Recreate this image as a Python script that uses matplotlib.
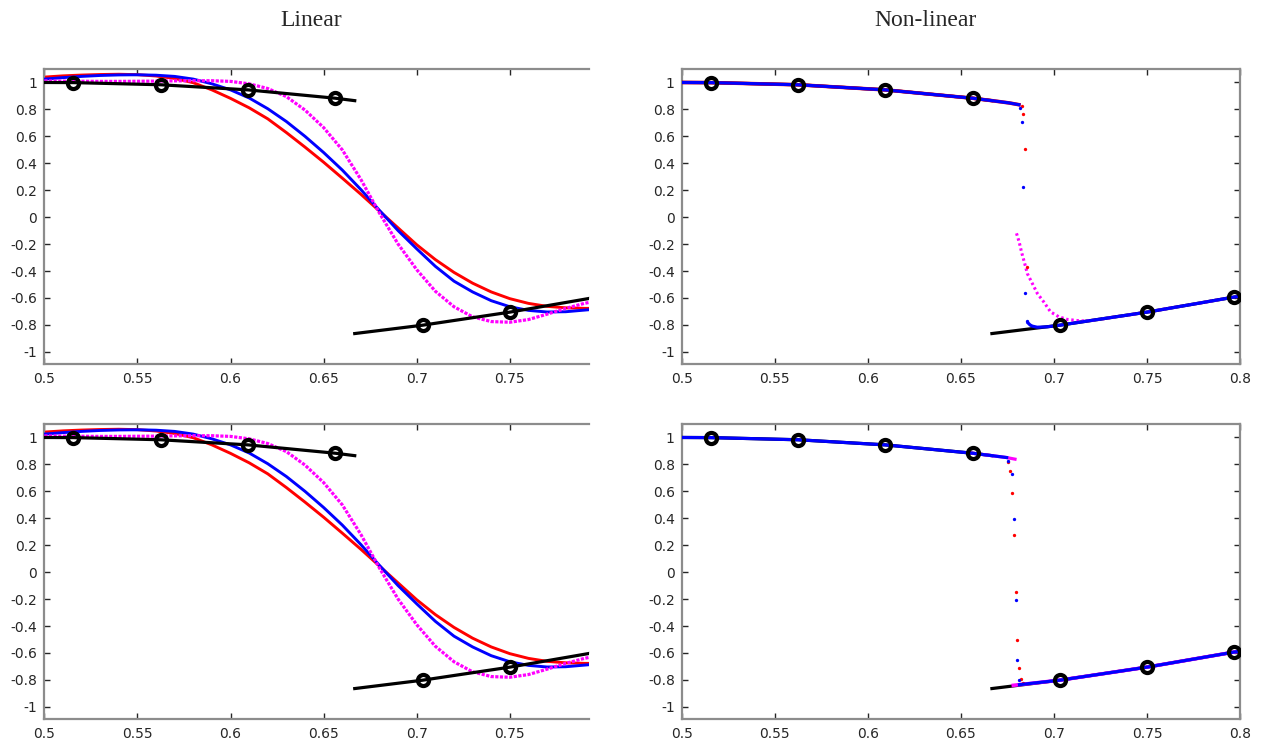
import matplotlib
matplotlib.use('Agg')
import matplotlib.pyplot as plt

plt.rcParams['axes.unicode_minus'] = False
plt.rcParams['font.family'] = ['DejaVu Sans']

# ------------------------------------------------------------------
# Datos
# ------------------------------------------------------------------

# Solucion de referencia (negro): dos ramas y los nodos marcados
ref_up_x = [0.5, 0.5156, 0.5625, 0.6094, 0.6563, 0.6667]
ref_up_y = [1.0, 0.999, 0.983, 0.945, 0.883, 0.865]
ref_lo_x = [0.6667, 0.7031, 0.75, 0.7969, 0.8]
ref_lo_y = [-0.864, -0.802, -0.705, -0.593, -0.586]
nodes_x = [0.5156, 0.5625, 0.6094, 0.6563, 0.7031, 0.75, 0.7969]
nodes_y = [0.999, 0.983, 0.945, 0.883, -0.802, -0.705, -0.593]

# Caso lineal (paneles de la izquierda, iguales arriba y abajo)
lin_x = [0.50, 0.51, 0.52, 0.53, 0.54, 0.55, 0.56, 0.57, 0.58, 0.59, 0.60,
         0.61, 0.62, 0.63, 0.64, 0.65, 0.66, 0.67, 0.68, 0.69, 0.70,
         0.71, 0.72, 0.73, 0.74, 0.75, 0.76, 0.77, 0.78, 0.79, 0.7925]
lin_red = [1.040, 1.049, 1.055, 1.059, 1.061, 1.058, 1.048, 1.030, 0.998, 0.945, 0.882,
           0.812, 0.730, 0.628, 0.520, 0.408, 0.290, 0.170, 0.045, -0.080, -0.205,
           -0.315, -0.410, -0.490, -0.555, -0.605, -0.640, -0.662, -0.673, -0.677, -0.677]
lin_blue = [1.025, 1.036, 1.045, 1.052, 1.056, 1.057, 1.054, 1.045, 1.025, 0.990, 0.945,
            0.885, 0.805, 0.710, 0.600, 0.480, 0.350, 0.205, 0.050, -0.100, -0.235,
            -0.365, -0.475, -0.555, -0.620, -0.665, -0.692, -0.704, -0.702, -0.690, -0.687]
lin_mag = [1.012, 1.010, 1.009, 1.008, 1.008, 1.009, 1.010, 1.012, 1.013, 1.013, 1.008,
           0.990, 0.955, 0.895, 0.795, 0.665, 0.500, 0.280, 0.030, -0.200, -0.390,
           -0.550, -0.665, -0.740, -0.775, -0.780, -0.760, -0.720, -0.677, -0.640, -0.633]

# Caso no lineal, panel superior
nl1_blue_up_x = [0.5, 0.5156, 0.5625, 0.6094, 0.6563, 0.6667, 0.676, 0.6812]
nl1_blue_up_y = [1.0, 0.999, 0.983, 0.945, 0.883, 0.865, 0.848, 0.835]
nl1_red_dots_x = [0.6826, 0.6836, 0.6847, 0.6856]
nl1_red_dots_y = [0.822, 0.765, 0.504, -0.368]
nl1_blue_dots_x = [0.6816, 0.6826, 0.6836, 0.6845, 0.6854]
nl1_blue_dots_y = [0.814, 0.710, 0.227, -0.566, -0.772]
nl1_blue_lo_x = [0.6861, 0.6872, 0.6884, 0.691, 0.6964, 0.7031, 0.75, 0.7969, 0.8]
nl1_blue_lo_y = [-0.785, -0.800, -0.809, -0.817, -0.814, -0.802, -0.705, -0.593, -0.586]
nl1_mag_lo_x = [0.6799, 0.6813, 0.6827, 0.6843, 0.6857, 0.6884, 0.6911, 0.6946, 0.6982,
                0.7027, 0.7072, 0.7143, 0.72, 0.73, 0.75, 0.7969, 0.8]
nl1_mag_lo_y = [-0.12, -0.182, -0.264, -0.343, -0.418, -0.492, -0.566, -0.63, -0.703,
                -0.74, -0.759, -0.770, -0.768, -0.747, -0.705, -0.593, -0.586]

# Caso no lineal, panel inferior
nl2_blue_up_x = [0.5, 0.5156, 0.5625, 0.6094, 0.6563, 0.6667, 0.6746]
nl2_blue_up_y = [1.0, 0.999, 0.983, 0.945, 0.883, 0.865, 0.851]
nl2_mag_up_x = [0.6563, 0.6667, 0.6746, 0.6791]
nl2_mag_up_y = [0.883, 0.865, 0.851, 0.839]
nl2_red_dots_x = [0.6755, 0.6762, 0.6773, 0.6784, 0.6795, 0.6804, 0.6813, 0.6823, 0.6832]
nl2_red_dots_y = [0.819, 0.752, 0.589, 0.275, -0.146, -0.505, -0.708, -0.795, -0.826]
nl2_blue_dots_x = [0.6755, 0.6773, 0.6784, 0.6795, 0.6804, 0.6815]
nl2_blue_dots_y = [0.824, 0.728, 0.396, -0.210, -0.649, -0.797]
nl2_lo_x = [0.6782, 0.6815, 0.7031, 0.75, 0.7969, 0.8]
nl2_lo_y = [-0.840, -0.835, -0.802, -0.705, -0.593, -0.586]

yticks = [-1, -0.8, -0.6, -0.4, -0.2, 0, 0.2, 0.4, 0.6, 0.8, 1]
ytick_labels = ['-1', '-0.8', '-0.6', '-0.4', '-0.2', '0', '0.2', '0.4', '0.6', '0.8', '1']
xticks_left = [0.5, 0.55, 0.6, 0.65, 0.7, 0.75]
xticks_right = [0.5, 0.55, 0.6, 0.65, 0.7, 0.75, 0.8]

# ------------------------------------------------------------------
# Figura
# ------------------------------------------------------------------
fig = plt.figure(figsize=(12.61, 7.48), dpi=100)

W, H = 1261.0, 748.0
ax_tl = fig.add_axes([44.3 / W, 1 - 364 / H, (589 - 44.3) / W, 295 / H])
ax_tr = fig.add_axes([681.7 / W, 1 - 364 / H, (1240 - 681.7) / W, 295 / H])
ax_bl = fig.add_axes([44.3 / W, 1 - 719 / H, (589 - 44.3) / W, 295 / H])
ax_br = fig.add_axes([681.7 / W, 1 - 719 / H, (1240 - 681.7) / W, 295 / H])


def estilo(ax, xmax, xticks, con_derecha):
    ax.set_xlim(0.5, xmax)
    ax.set_ylim(-1.09, 1.1)
    ax.set_xticks(xticks)
    ax.set_xticklabels(['%g' % t for t in xticks])
    ax.set_yticks(yticks)
    ax.set_yticklabels(ytick_labels)
    for lado in ['left', 'bottom', 'top', 'right']:
        ax.spines[lado].set_color('#8c8c8c')
        ax.spines[lado].set_linewidth(1.6)
    ax.spines['right'].set_visible(con_derecha)
    ax.tick_params(direction='in', length=4, width=1, color='#262626',
                   top=True, right=con_derecha, labelsize=10, labelcolor='#262626')
    ax.tick_params(axis='x', pad=6)
    ax.tick_params(axis='y', pad=5)


def referencia(ax):
    ax.plot(ref_up_x, ref_up_y, color='black', lw=2.3, zorder=4)
    ax.plot(ref_lo_x, ref_lo_y, color='black', lw=2.3, zorder=4)


def nodos(ax):
    ax.plot(nodes_x, nodes_y, 'o', ms=8, mfc='none', mec='black', mew=3.0, zorder=6)


# Paneles lineales
for ax in [ax_tl, ax_bl]:
    ax.plot(lin_x, lin_red, color='#ff0000', lw=2.1, zorder=2)
    ax.plot(lin_x, lin_blue, color='#0000ff', lw=2.1, zorder=3)
    ax.plot(lin_x, lin_mag, color='#ff00ff', lw=2.3, ls=(0, (1.0, 0.45)), zorder=3)
    referencia(ax)
    nodos(ax)
    estilo(ax, 0.7925, xticks_left, False)

# Panel no lineal superior
referencia(ax_tr)
ax_tr.plot(nl1_blue_up_x, nl1_blue_up_y, color='#ff0000', lw=2.6, zorder=4.2)
ax_tr.plot(nl1_mag_lo_x, nl1_mag_lo_y, color='#ff00ff', lw=2.2, ls=(0, (0.8, 0.9)), zorder=4.3)
ax_tr.plot(nl1_red_dots_x, nl1_red_dots_y, 'o', color='#ff0000', ms=2.4, mew=0, zorder=4.4)
ax_tr.plot(nl1_blue_dots_x, nl1_blue_dots_y, 'o', color='#0000ff', ms=2.4, mew=0, zorder=4.5)
ax_tr.plot(nl1_blue_up_x, nl1_blue_up_y, color='#0000ff', lw=2.3, zorder=4.6)
ax_tr.plot(nl1_blue_lo_x, nl1_blue_lo_y, color='#0000ff', lw=2.3, zorder=4.6)
nodos(ax_tr)
estilo(ax_tr, 0.8, xticks_right, True)

# Panel no lineal inferior
referencia(ax_br)
ax_br.plot(nl2_mag_up_x, nl2_mag_up_y, color='#ff00ff', lw=2.3, zorder=4.2)
ax_br.plot(nl2_red_dots_x, nl2_red_dots_y, 'o', color='#ff0000', ms=2.4, mew=0, zorder=4.4)
ax_br.plot(nl2_blue_dots_x, nl2_blue_dots_y, 'o', color='#0000ff', ms=2.4, mew=0, zorder=4.5)
ax_br.plot(nl2_lo_x, nl2_lo_y, color='#ff00ff', lw=2.6, zorder=4.3)
ax_br.plot(nl2_blue_up_x, nl2_blue_up_y, color='#0000ff', lw=2.3, zorder=4.6)
ax_br.plot(nl2_lo_x[1:], nl2_lo_y[1:], color='#0000ff', lw=2.3, zorder=4.6)
nodos(ax_br)
estilo(ax_br, 0.8, xticks_right, True)

# Titulos de columna
fig.text(311 / W, 1 - 20 / H, 'Linear', ha='center', va='center',
         family='Liberation Serif', fontsize=17, color='#262626')
fig.text(925 / W, 1 - 20 / H, 'Non-linear', ha='center', va='center',
         family='Liberation Serif', fontsize=17, color='#262626')

fig.savefig('out.png', dpi=100)
